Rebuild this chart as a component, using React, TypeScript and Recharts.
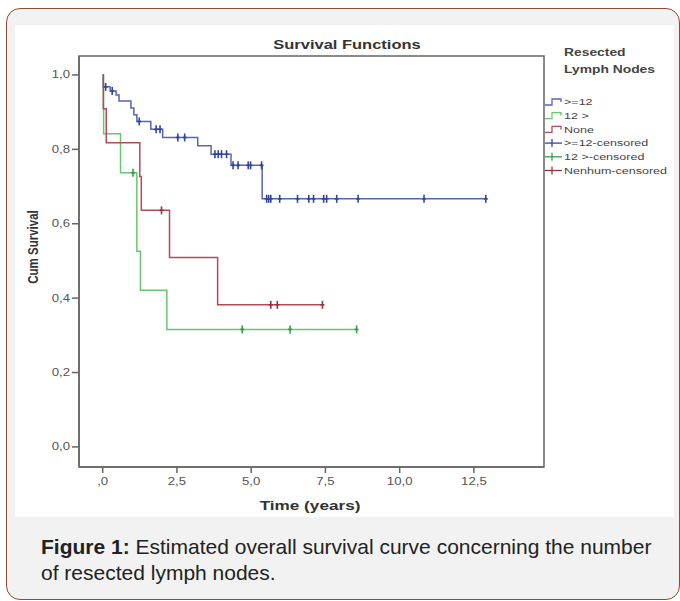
import React from "react";
import { ComposedChart, Line, Scatter, XAxis, YAxis, ReferenceArea } from "recharts";

// Kaplan-Meier step points: t = time (years), s = cumulative survival
const geTwelve = [
  { t: 0, s: 1.0 },
  { t: 0.02, s: 0.968 },
  { t: 0.25, s: 0.957 },
  { t: 0.45, s: 0.946 },
  { t: 0.55, s: 0.93 },
  { t: 0.95, s: 0.911 },
  { t: 1.05, s: 0.893 },
  { t: 1.15, s: 0.875 },
  { t: 1.62, s: 0.854 },
  { t: 2.02, s: 0.832 },
  { t: 3.2, s: 0.81 },
  { t: 3.65, s: 0.787 },
  { t: 4.32, s: 0.757 },
  { t: 5.37, s: 0.667 },
  { t: 12.9, s: 0.667 },
];
const underTwelve = [
  { t: 0, s: 1.0 },
  { t: 0.03, s: 0.842 },
  { t: 0.6, s: 0.737 },
  { t: 1.15, s: 0.526 },
  { t: 1.27, s: 0.421 },
  { t: 2.16, s: 0.316 },
  { t: 8.55, s: 0.316 },
];
const noneGroup = [
  { t: 0, s: 1.0 },
  { t: 0.02, s: 0.909 },
  { t: 0.12, s: 0.818 },
  { t: 1.25, s: 0.727 },
  { t: 1.3, s: 0.636 },
  { t: 2.25, s: 0.509 },
  { t: 3.87, s: 0.382 },
  { t: 7.43, s: 0.382 },
];

// censoring times
const geTwelveCens = [0.1, 0.32, 1.23, 1.8, 1.93, 2.53, 2.76, 3.78, 3.89, 4.0, 4.17, 4.39, 4.56, 4.9, 4.98, 5.35, 5.52, 5.59, 5.66, 5.96, 6.56, 6.94, 7.1, 7.44, 7.54, 7.88, 8.6, 10.82, 12.9];
const underTwelveCens = [1.02, 4.7, 6.31, 8.55];
const noneCens = [1.98, 5.66, 5.88, 7.4];

const xTicks = [0, 2.5, 5, 7.5, 10, 12.5];
const yTicks = [0, 0.2, 0.4, 0.6, 0.8, 1.0];
const xTickLabels = [",0", "2,5", "5,0", "7,5", "10,0", "12,5"];
const yTickLabels = ["0,0", "0,2", "0,4", "0,6", "0,8", "1,0"];

const legendItems = [">=12", "12 >", "None", ">=12-censored", "12 >-censored", "Nenhum-censored"];

const BLUE = "#5566b4";
const BLUE_D = "#34449a";
const GREEN = "#69c66e";
const GREEN_D = "#379a45";
const RED = "#b44a58";
const RED_D = "#973444";

const FONT = "'Liberation Sans', Arial, sans-serif";
const SX = 1.32; // the source chart image is stretched horizontally
const X_DOM: [number, number] = [-0.798, 14.86];
const Y_DOM: [number, number] = [-0.054, 1.051];

const levelAt = (curve: { t: number; s: number }[], t: number) => {
  let s = curve[0].s;
  for (const p of curve) if (p.t <= t) s = p.s;
  return s;
};
const censPoints = (curve: { t: number; s: number }[], times: number[]) =>
  times.map((t) => ({ t, s: levelAt(curve, t) }));

const plus = (color: string) => (props: any) => {
  const { cx, cy } = props;
  return (
    <g>
      <line x1={cx} y1={cy - 4} x2={cx} y2={cy + 4} stroke={color} strokeWidth={1.6} />
      <line x1={cx - 2} y1={cy} x2={cx + 2} y2={cy} stroke={color} strokeWidth={1.6} />
    </g>
  );
};

const XTick = (props: any) => {
  const { x, y, payload } = props;
  const label = xTickLabels[xTicks.indexOf(payload.value)] ?? String(payload.value);
  return (
    <g transform={`translate(${x},${y + 8.5})`}>
      <text textAnchor="middle" transform={`scale(${SX},1)`} fontSize={10} fill="#555" fontFamily={FONT}>{label}</text>
    </g>
  );
};

const YTick = (props: any) => {
  const { x, y, payload } = props;
  const label = yTickLabels[yTicks.indexOf(payload.value)] ?? String(payload.value);
  return (
    <g transform={`translate(${x},${y + 3.5})`}>
      <text textAnchor="end" transform={`scale(${SX},1)`} fontSize={10} fill="#555" fontFamily={FONT}>{label}</text>
    </g>
  );
};

function Overlay() {
  const colors = [BLUE, GREEN, RED, BLUE_D, GREEN_D, RED_D];
  return (
    <svg width={680} height={601} style={{ position: "absolute", left: 0, top: 0, pointerEvents: "none" }}>
      <g fontFamily={FONT} fill="#333" fontWeight="bold">
        <text transform={`translate(347,48.5) scale(${SX},1)`} textAnchor="middle" fontSize={12.5}>Survival Functions</text>
        <text transform={`translate(310,509.5) scale(${SX},1)`} textAnchor="middle" fontSize={13}>Time (years)</text>
        <text transform={`translate(37.5,247) scale(${SX},1) rotate(-90)`} textAnchor="middle" fontSize={11.5}>Cum Survival</text>
        <text transform={`translate(564,55.5) scale(${SX},1)`} fontSize={10.5} fill="#444">Resected</text>
        <text transform={`translate(564,73) scale(${SX},1)`} fontSize={10.5} fill="#444">Lymph Nodes</text>
      </g>
      {legendItems.map((name, i) => {
        const y = 102 + i * 13.7;
        const c = colors[i];
        return (
          <g key={name}>
            {i < 3 ? (
              <path d={`M545,${y + 3} H552 V${y - 3} H561 V${y}`} fill="none" stroke={c} strokeWidth={1.3} />
            ) : (
              <g>
                <line x1={545} y1={y} x2={562} y2={y} stroke={c} strokeWidth={1.3} />
                <line x1={552} y1={y - 4} x2={552} y2={y + 4} stroke={c} strokeWidth={1.3} />
              </g>
            )}
            <text transform={`translate(564,${y + 3.3}) scale(${SX},1)`} fontSize={9.5} fill="#444" fontFamily={FONT}>{name}</text>
          </g>
        );
      })}
    </svg>
  );
}

export default function App() {
  return (
    <div style={{ position: "absolute", left: 0, top: 0, width: 680, height: 601, background: "#fff", overflow: "hidden", fontFamily: FONT }}>
      <div style={{ position: "absolute", left: 6, top: 8, width: 672, height: 590, border: "1.5px solid #8d4b33", borderRadius: 14, background: "#f2f2f2" }} />
      <div style={{ position: "absolute", left: 15, top: 25, width: 659, height: 492, background: "#fff" }} />
      <div style={{ position: "absolute", left: 0, top: 0 }}>
        <ComposedChart width={680} height={601} margin={{ top: 56, right: 136, bottom: 104, left: 39 }}>
          <XAxis
            dataKey="t"
            type="number"
            domain={X_DOM}
            allowDataOverflow
            ticks={xTicks}
            height={30}
            tickSize={6}
            tickMargin={3}
            interval={0}
            stroke="#666"
            strokeWidth={1.5}
            tick={XTick}
          />
          <YAxis
            dataKey="s"
            type="number"
            domain={Y_DOM}
            allowDataOverflow
            ticks={yTicks}
            width={40}
            tickSize={7}
            tickMargin={2}
            interval={0}
            stroke="#666"
            strokeWidth={1.5}
            tick={YTick}
          />
          <ReferenceArea x1={X_DOM[0]} x2={X_DOM[1]} y1={Y_DOM[0]} y2={Y_DOM[1]} fill="none" stroke="#666" strokeWidth={1.5} ifOverflow="visible" />
          <Line data={underTwelve} dataKey="s" type="stepAfter" stroke={GREEN} strokeWidth={1.5} dot={false} isAnimationActive={false} />
          <Line data={noneGroup} dataKey="s" type="stepAfter" stroke={RED} strokeWidth={1.5} dot={false} isAnimationActive={false} />
          <Line data={geTwelve} dataKey="s" type="stepAfter" stroke={BLUE} strokeWidth={1.5} dot={false} isAnimationActive={false} />
          <Scatter data={censPoints(underTwelve, underTwelveCens)} dataKey="s" shape={plus(GREEN_D)} isAnimationActive={false} />
          <Scatter data={censPoints(noneGroup, noneCens)} dataKey="s" shape={plus(RED_D)} isAnimationActive={false} />
          <Scatter data={censPoints(geTwelve, geTwelveCens)} dataKey="s" shape={plus(BLUE_D)} isAnimationActive={false} />
        </ComposedChart>
      </div>
      <Overlay />
      <div style={{ position: "absolute", left: 41, top: 534, width: 616, fontSize: 21, lineHeight: "25.7px", color: "#222" }}>
        <b>Figure 1:</b> Estimated overall survival curve concerning the number of resected lymph nodes.
      </div>
    </div>
  );
}
